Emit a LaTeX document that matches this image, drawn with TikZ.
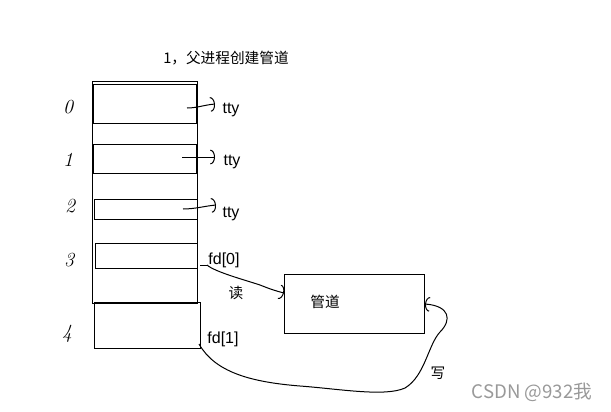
\documentclass[tikz,border=0pt]{standalone}
\usepackage{fontspec}
\setmainfont{Liberation Sans}
\newfontfamily\cjk{Noto Sans CJK SC}
\newfontfamily\lmfont{Latin Modern Roman}
\usetikzlibrary{arrows.meta}
\begin{document}
\begin{tikzpicture}[x=0.75pt,y=-0.75pt,line width=0.75pt,
  box/.style={draw,inner sep=0pt,anchor=north west},
  lab/.style={inner sep=0pt,font=\fontsize{12}{14}\selectfont},
  cjklab/.style={inner sep=0pt,font=\cjk\fontsize{11}{13}\selectfont},
  digit/.style={inner sep=0pt,font=\lmfont\itshape\fontsize{15}{17}\selectfont},
  hand/.style={-{Arc Barb[length=3.5pt,width=11pt]},line width=0.75pt}]
\useasboundingbox (0,0) rectangle (611,411);
% table and slots
\node[box,minimum width=78.75pt,minimum height=166.5pt] (table) at (92,81) {};
\node[box,minimum width=77.25pt,minimum height=29.25pt] (s0) at (93,84) {};
\node[box,minimum width=77.25pt,minimum height=21.75pt] (s1) at (93,144) {};
\node[box,minimum width=77.25pt,minimum height=15pt] (s2) at (94,199) {};
\node[box,minimum width=76.5pt,minimum height=18.75pt] (s3) at (95,243) {};
\node[box,minimum width=79.5pt,minimum height=34.5pt] (s4) at (94,302) {};
\node[box,minimum width=105pt,minimum height=44.25pt] (pipe) at (284,274) {};
% title
\node[inner sep=0pt,font=\cjk\fontsize{11}{13}\selectfont] (title) at (226,58) {1，父进程创建管道};
% digits
\node[digit] (d0) at (68,107) {0};
\node[digit] (d1) at (68,160) {1};
\node[digit] (d2) at (70,206) {2};
\node[digit] (d3) at (69,260) {3};
\node[digit] (d4) at (67,334) {4};
% labels
\node[lab] (tty0) at (231,110) {tty};
\node[lab] (tty1) at (232,162) {tty};
\node[lab] (tty2) at (231,214) {tty};
\node[lab] (fd0) at (224,260) {fd[0]};
\node[lab] (fd1) at (223,339) {fd[1]};
\node[cjklab] (read) at (236,293) {读};
\node[cjklab] (pipetext) at (325,302) {管道};
\node[cjklab] (write) at (438,373) {写};
\node[inner sep=0pt,font=\cjk\fontsize{14}{16}\selectfont,text=black!40] (wm) at (532,392) {CSDN @932我};
% connectors
\coordinate (c0) at (187,108);
\coordinate (e0) at (215,104);
\coordinate (c1) at (182,157);
\coordinate (e1) at (215,157);
\coordinate (c2) at (183,209);
\coordinate (e2) at (216,205);
\coordinate (r0) at (200,265);
\coordinate (r1) at (284,293);
\coordinate (w0) at (199,344);
\coordinate (w1) at (425,304);
\draw[hand] (c0) .. controls (197,108) and (204,105) .. (e0);
\draw[hand] (c1) -- (e1);
\draw[hand] (c2) .. controls (195,209) and (205,206) .. (e2);
\draw (r0) -- (207,265);
\draw[hand] (207,265) .. controls (215,272) and (245,280) .. (260,285) .. controls (270,289) and (276,291) .. (r1);
\draw[hand] (w0) .. controls (215,372) and (250,382) .. (300,386)
  .. controls (340,389) and (385,397) .. (405,388)
  .. controls (425,376) and (428,345) .. (440,332)
  .. controls (452,320) and (450,306) .. (w1);
\end{tikzpicture}
\end{document}
